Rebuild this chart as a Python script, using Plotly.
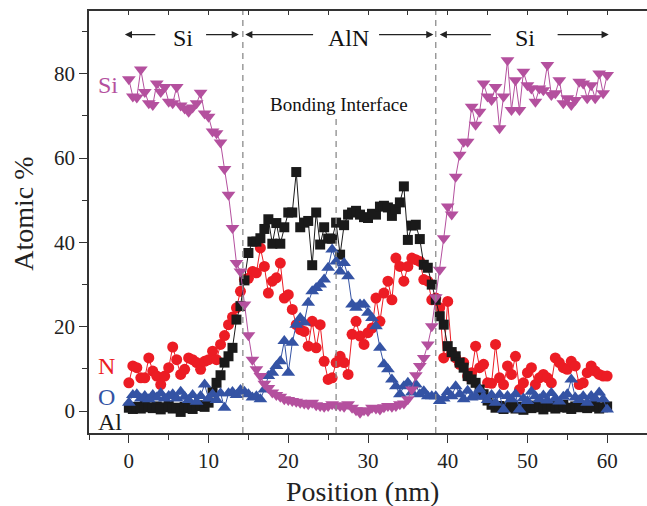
import plotly.graph_objects as go

# Sampling positions along the depth profile (nm)
positions = [
    0.0, 0.5, 1.0, 1.5, 2.0, 2.5, 3.0, 3.5, 4.0, 4.5,
    5.0, 5.5, 6.0, 6.5, 7.0, 7.5, 8.0, 8.5, 9.0, 9.5,
    10.0, 10.5, 11.0, 11.5, 12.0, 12.5, 13.0, 13.5, 14.0, 14.5,
    15.0, 15.5, 16.0, 16.5, 17.0, 17.5, 18.0, 18.5, 19.0, 19.5,
    20.0, 20.5, 21.0, 21.5, 22.0, 22.5, 23.0, 23.5, 24.0, 24.5,
    25.0, 25.5, 26.0, 26.5, 27.0, 27.5, 28.0, 28.5, 29.0, 29.5,
    30.0, 30.5, 31.0, 31.5, 32.0, 32.5, 33.0, 33.5, 34.0, 34.5,
    35.0, 35.5, 36.0, 36.5, 37.0, 37.5, 38.0, 38.5, 39.0, 39.5,
    40.0, 40.5, 41.0, 41.5, 42.0, 42.5, 43.0, 43.5, 44.0, 44.5,
    45.0, 45.5, 46.0, 46.5, 47.0, 47.5, 48.0, 48.5, 49.0, 49.5,
    50.0, 50.5, 51.0, 51.5, 52.0, 52.5, 53.0, 53.5, 54.0, 54.5,
    55.0, 55.5, 56.0, 56.5, 57.0, 57.5, 58.0, 58.5, 59.0, 59.5,
    60.0,
]

# Atomic % of each element at every position
si_pct = [
    78.7, 74.6, 74.4, 81.0, 75.7, 73.0, 72.6, 77.7, 75.7, 76.9,
    73.4, 73.0, 76.9, 72.5, 71.8, 71.0, 72.0, 73.0, 75.5, 70.6,
    69.8, 66.3, 65.9, 63.7, 57.4, 51.3, 43.4, 35.1, 33.1, 25.3,
    18.0, 12.2, 9.9, 8.3, 6.5, 5.5, 4.4, 3.8, 3.4, 2.8,
    2.6, 2.4, 2.2, 2.0, 1.8, 1.6, 2.0, 1.4, 1.2, 1.0,
    1.2, 1.6, 1.4, 1.2, 1.0, 1.6, 0.8, 0.2, -0.4, 0.2,
    0.0, 0.8, 0.6, 0.4, 0.9, 1.2, 1.0, 1.2, 1.6, 1.8,
    2.8, 5.1, 8.5, 10.7, 12.6, 15.8, 20.1, 27.0, 33.5, 41.0,
    48.5, 46.6, 55.6, 60.8, 63.9, 63.9, 72.2, 67.9, 71.0, 77.7,
    74.6, 73.8, 76.9, 67.1, 74.6, 83.2, 71.4, 78.5, 71.4, 80.5,
    77.3, 76.5, 73.4, 76.5, 76.1, 82.1, 75.0, 75.4, 78.5, 73.0,
    74.2, 72.6, 73.8, 78.1, 77.7, 74.2, 77.3, 74.2, 80.1, 75.4,
    79.7,
]

al_pct = [
    0.8, 0.5, 1.0, 0.6, 1.2, 0.9, 0.7, 1.1, 0.4, 0.9,
    1.3, 0.6, 0.8, -0.2, 1.0, 0.7, 0.5, 1.2, 1.4, 1.0,
    2.0, 4.5, 6.7, 8.5, 11.5, 13.0, 15.0, 21.7, 24.9, 31.0,
    37.5, 40.2, 40.2, 41.0, 43.2, 45.5, 39.7, 44.6, 39.7, 43.6,
    47.1, 47.1, 56.7, 43.6, 44.7, 45.1, 34.6, 47.1, 39.5, 43.6,
    40.9, 40.9, 44.7, 37.1, 44.1, 46.6, 47.1, 47.5, 46.6, 46.0,
    45.8, 46.8, 46.6, 48.5, 48.7, 48.3, 46.3, 47.9, 49.5, 53.3,
    40.6, 44.0, 44.2, 40.8, 34.7, 34.0, 30.0, 26.4, 22.5, 20.5,
    15.4, 14.0, 13.0, 11.5, 10.3, 8.3, 7.5, 6.7, 5.1, 4.0,
    2.5, 1.5, 0.8, 1.2, 0.5, 0.9, 1.4, 0.6, 1.0, 0.3,
    1.1, 0.7, 1.3, 0.9, 0.4, 1.0, 1.2, 0.6, 0.9, 1.5,
    0.8, 0.5, 1.1, 0.9, 1.3, 0.7, 1.0, 1.2, 0.6, 0.9,
    1.1,
]

n_pct = [
    6.7, 10.7, 10.3, 7.9, 7.9, 12.6, 9.5, 8.3, 6.3, 8.3,
    10.3, 15.2, 12.2, 8.7, 9.9, 12.6, 12.2, 11.5, 9.9, 11.8,
    12.2, 14.2, 12.2, 15.8, 17.9, 20.5, 22.3, 24.5, 28.4, 31.2,
    31.5, 33.1, 32.8, 38.7, 34.3, 28.0, 30.8, 31.6, 35.1, 26.8,
    27.6, 24.1, 20.5, 19.3, 18.9, 15.4, 21.3, 15.0, 20.5, 11.8,
    7.5, 7.9, 11.5, 13.0, 11.5, 8.7, 18.2, 21.3, 17.8, 15.8,
    18.6, 19.7, 26.8, 21.3, 28.0, 30.8, 26.4, 36.3, 34.3, 30.8,
    34.3, 36.3, 35.9, 35.5, 31.2, 30.8, 26.4, 26.8, 24.5, 12.6,
    26.0, 13.8, 12.6, 11.1, 11.5, 8.3, 9.1, 15.4, 10.3, 11.1,
    6.7, 6.6, 15.8, 7.9, 6.3, 10.7, 8.7, 13.0, 5.1, 6.7,
    9.1, 10.3, 6.3, 7.9, 8.7, 7.9, 6.7, 12.6, 11.5, 10.3,
    9.9, 11.8, 10.7, 6.3, 6.7, 9.1, 10.7, 9.5, 8.7, 8.3,
    8.3,
]

o_pct = [
    2.0, 3.8, 4.0, 3.0, 3.6, 2.8, 3.8, 3.2, 4.2, 3.0,
    3.6, 4.0, 3.0, 4.6, 3.4, 2.6, 3.8, 2.2, 3.6, 6.3,
    3.0, 4.0, 2.6, 4.2, 0.8, 4.2, 4.5, 3.8, 5.0, 4.6,
    4.0, 3.2, 3.5, 2.8, 5.1, 8.3, 9.1, 10.7, 11.8, 16.6,
    9.1, 16.2, 20.5, 22.1, 21.0, 25.7, 28.4, 29.2, 30.0, 31.2,
    34.0, 38.3, 35.5, 33.1, 35.1, 32.0, 25.3, 24.5, 25.3, 25.3,
    23.3, 22.1, 20.1, 15.0, 11.1, 9.9, 7.5, 5.9, 4.0, 5.9,
    6.7, 4.4, 6.3, 4.0, 4.7, 3.5, 3.5, 3.5, 2.4, 3.0,
    4.5, 3.5, 5.9, 4.0, 2.8, 4.8, 3.2, 3.5, 5.1, 3.4,
    2.6, 3.8, 2.0, 3.9, 0.4, 3.6, 2.8, 4.0, 0.4, 3.0,
    2.4, 4.6, 3.5, 2.8, 3.7, 2.5, 4.3, 3.0, 2.3, 3.4,
    4.0, 7.5, 3.2, 2.6, 3.5, 2.0, 3.6, 3.0, 4.4, 2.8,
    0.4,
]

# Layer boundaries and region labels
interfaces = [14.3, 38.5]
bonding_plane = 26.0
region_names = ["Si", "AlN", "Si"]
region_centers = [6.8, 27.6, 49.7]
region_arrows = [(3.5, -0.5, 9.5, 13.8), (23.3, 14.6, 31.2, 38.2), (45.6, 39.0, 53.6, 60.2)]

SERIF = "Liberation Serif, Times New Roman, serif"
C_SI = "#B4509E"
C_N = "#EC1C24"
C_O = "#3453A4"
C_AL = "#1A1A1A"

series = [
    ("N", n_pct, C_N, "circle", 11),
    ("Al", al_pct, C_AL, "square", 10),
    ("O", o_pct, C_O, "triangle-up", 12),
    ("Si", si_pct, C_SI, "triangle-down", 12),
]

fig = go.Figure()
for name, vals, color, sym, size in series:
    fig.add_trace(go.Scatter(
        x=positions, y=vals, name=name, mode="lines+markers",
        line=dict(color=color, width=1),
        marker=dict(symbol=sym, size=size, color=color, line=dict(width=0)),
        showlegend=False,
    ))

# invisible trace that carries the top axis with inward ticks
fig.add_trace(go.Scatter(x=[0], y=[None], xaxis="x2", mode="markers",
                         marker=dict(opacity=0), showlegend=False, hoverinfo="skip"))

shapes = []
for xi in interfaces:
    shapes.append(dict(type="line", xref="x", yref="y domain", x0=xi, x1=xi, y0=0, y1=1,
                       line=dict(color="#8C8C8C", width=1.3, dash="6px,5px")))
shapes.append(dict(type="line", xref="x", yref="y", x0=bonding_plane, x1=bonding_plane,
                   y0=-5.2, y1=70, line=dict(color="#8C8C8C", width=1.3, dash="6px,5px")))

annotations = []
arrow_y = 89.3
for name, cx, (t1, h1, t2, h2) in zip(region_names, region_centers, region_arrows):
    annotations.append(dict(x=cx, y=88.4, text=name, showarrow=False,
                            font=dict(family=SERIF, size=24, color="#111")))
    for tail, head in ((t1, h1), (t2, h2)):
        annotations.append(dict(x=head, y=arrow_y, ax=tail, ay=arrow_y, axref="x", ayref="y",
                                xref="x", yref="y", text="", showarrow=True, arrowhead=2,
                                arrowsize=1.1, arrowwidth=1.3, arrowcolor="#222", standoff=0))

annotations.append(dict(x=bonding_plane + 0.4, y=72.8, text="Bonding Interface", showarrow=False,
                        font=dict(family=SERIF, size=19, color="#111")))

element_labels = [("Si", -2.6, 77.3, C_SI), ("N", -2.75, 10.8, C_N),
                  ("O", -2.75, 3.4, C_O), ("Al", -2.4, -2.5, C_AL)]
for txt, lx, ly, col in element_labels:
    annotations.append(dict(x=lx, y=ly, text=txt, showarrow=False,
                            font=dict(family=SERIF, size=24, color=col)))

# axis titles
annotations.append(dict(xref="paper", yref="paper", x=-0.118, y=0.52, text="Atomic %",
                        textangle=-90, showarrow=False, xanchor="center", yanchor="middle",
                        font=dict(family=SERIF, size=28, color="#222")))
annotations.append(dict(xref="paper", yref="paper", x=0.49, y=-0.138, text="Position (nm)",
                        showarrow=False, xanchor="center", yanchor="middle",
                        font=dict(family=SERIF, size=28, color="#222")))

fig.update_layout(
    width=647, height=506,
    margin=dict(l=89, r=0, t=11, b=73),
    paper_bgcolor="white", plot_bgcolor="white",
    font=dict(family=SERIF, color="#222"),
    shapes=shapes, annotations=annotations,
    xaxis=dict(
        range=[-5, 65], tickvals=[0, 10, 20, 30, 40, 50, 60],
        showline=True, linecolor="#333", linewidth=1.6, mirror=True,
        ticks="outside", ticklen=8, tickwidth=1.4, tickcolor="#333",
        minor=dict(ticks="outside", ticklen=5, tickwidth=1.4, tickcolor="#333", dtick=5, tick0=0),
        showgrid=False, zeroline=False,
        tickfont=dict(family=SERIF, size=21, color="#222"),
    ),
    xaxis2=dict(
        range=[-5, 65], overlaying="x", side="top", tick0=0, dtick=5,
        ticks="inside", ticklen=4, tickwidth=1.2, tickcolor="#333",
        showticklabels=False, showline=False, showgrid=False, zeroline=False,
    ),
    yaxis=dict(
        range=[-5.2, 94.9], tickvals=[0, 20, 40, 60, 80],
        showline=True, linecolor="#333", linewidth=1.6,
        ticks="outside", ticklen=8, tickwidth=1.4, tickcolor="#333",
        minor=dict(ticks="outside", ticklen=5, tickwidth=1.4, tickcolor="#333", dtick=20, tick0=10),
        showgrid=False, zeroline=False,
        tickfont=dict(family=SERIF, size=21, color="#222"),
    ),
)

fig.write_html("out.html")
